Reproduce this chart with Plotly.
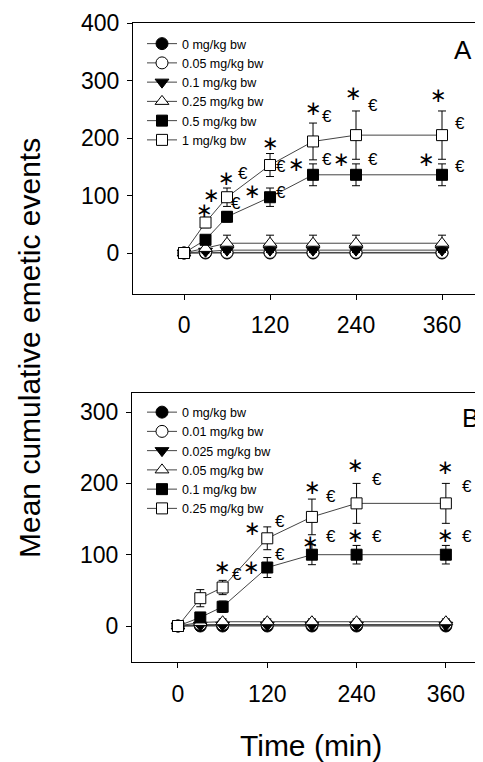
import plotly.graph_objects as go

# The page body adds an 8px margin, so the figure is 8px smaller each way
W, H = 475, 754
OFF = 8  # body margin offset (reference pixel -> figure pixel)

# ---------------- data ----------------
time_min = [0, 30, 60, 120, 180, 240, 360]

# Panel A
labels_A = ["0 mg/kg bw", "0.05 mg/kg bw", "0.1 mg/kg bw", "0.25 mg/kg bw", "0.5 mg/kg bw", "1 mg/kg bw"]
mean_A_0 = [0, 0, 0, 0, 0, 0, 0]
mean_A_005 = [0, 1, 1, 1, 1, 1, 1]
mean_A_01 = [0, 3, 5, 5, 5, 5, 5]
mean_A_025 = [0, 8, 17, 17, 17, 17, 17]
mean_A_05 = [0, 23, 63, 97, 136, 136, 136]
mean_A_1 = [0, 53, 97, 153, 194, 205, 205]
err_A_0 = [0, 0, 0, 0, 0, 0, 0]
err_A_005 = [0, 1, 1, 1, 1, 1, 1]
err_A_01 = [0, 3, 4, 4, 4, 4, 4]
err_A_025 = [0, 6, 14, 14, 14, 14, 14]
err_A_05 = [0, 5, 9, 16, 19, 19, 19]
err_A_1 = [0, 9, 16, 20, 32, 42, 42]

# Panel B
labels_B = ["0 mg/kg bw", "0.01 mg/kg bw", "0.025 mg/kg bw", "0.05 mg/kg bw", "0.1 mg/kg bw", "0.25 mg/kg bw"]
mean_B_0 = [0, 0, 0, 0, 0, 0, 0]
mean_B_001 = [0, 2, 2, 2, 2, 2, 2]
mean_B_0025 = [0, 1, 1, 1, 1, 1, 1]
mean_B_005 = [0, 5, 6, 6, 6, 6, 6]
mean_B_01 = [0, 12, 27, 82, 100, 100, 100]
mean_B_025 = [0, 39, 54, 123, 153, 172, 172]
err_B_0 = [0, 0, 0, 0, 0, 0, 0]
err_B_001 = [0, 1, 1, 1, 1, 1, 1]
err_B_0025 = [0, 1, 1, 1, 1, 1, 1]
err_B_005 = [0, 3, 4, 4, 4, 4, 4]
err_B_01 = [0, 6, 8, 14, 14, 13, 13]
err_B_025 = [0, 12, 10, 16, 25, 28, 28]

# significance marks (time, value, mark)
sig_A = [(29, 75, "*"), (39, 101, "*"), (59, 130, "*"), (82, 138, "€"), (73, 86, "€"),
         (96, 108, "*"), (121, 191, "*"), (136, 151, "€"), (135, 105, "€"), (157, 154, "*"),
         (180, 252, "*"), (199, 237, "€"), (199, 163, "€"), (220, 163, "*"), (236, 278, "*"),
         (264, 257, "€"), (264, 163, "€"), (355, 275, "*"), (385, 226, "€"), (338, 163, "*"),
         (385, 150, "€")]
sig_B = [(60, 83, "*"), (79, 72, "€"), (99, 83, "*"), (100, 138, "*"), (137, 146, "€"),
         (137, 100, "€"), (178, 118, "*"), (181, 195, "*"), (206, 182, "€"), (206, 125, "€"),
         (238, 226, "*"), (267, 206, "€"), (238, 128, "*"), (267, 125, "€"), (359, 223, "*"),
         (388, 196, "€"), (359, 128, "*"), (388, 125, "€")]

x_ticks = [0, 120, 240, 360]
y_ticks_A = [0, 100, 200, 300, 400]
y_ticks_B = [0, 100, 200, 300]

# ---------------- styles ----------------
symbols = ["circle", "circle", "triangle-down", "triangle-up", "square", "square"]
fills = ["black", "white", "black", "white", "black", "white"]
sizes = [12, 12, 12, 12, 11, 11]
FONT = "Liberation Sans, Arial, sans-serif"


def px_x(v):
    return (v - OFF) / W


def px_y(v):
    return 1 - (v - OFF) / H


fig = go.Figure()


def add_panel(means, errs, labels, xa, ya, legend):
    for i, (m, e, lab) in enumerate(zip(means, errs, labels)):
        fig.add_trace(go.Scatter(
            x=time_min, y=m, name=lab, mode="lines+markers",
            xaxis=xa, yaxis=ya, legend=legend,
            line=dict(color="#444444", width=1),
            marker=dict(symbol=symbols[i], size=sizes[i], color=fills[i],
                        line=dict(color="black", width=1)),
            error_y=dict(type="data", array=e, visible=True, color="black",
                         thickness=1, width=4),
        ))


add_panel([mean_A_0, mean_A_005, mean_A_01, mean_A_025, mean_A_05, mean_A_1],
          [err_A_0, err_A_005, err_A_01, err_A_025, err_A_05, err_A_1],
          labels_A, "x", "y", "legend")
add_panel([mean_B_0, mean_B_001, mean_B_0025, mean_B_005, mean_B_01, mean_B_025],
          [err_B_0, err_B_001, err_B_0025, err_B_005, err_B_01, err_B_025],
          labels_B, "x2", "y2", "legend2")

annotations = []
for (xr, yr, sig) in [("x", "y", sig_A), ("x2", "y2", sig_B)]:
    for t, v, mk in sig:
        if mk == "*":
            annotations.append(dict(x=t, y=v, xref=xr, yref=yr, text="∗", showarrow=False,
                                    font=dict(family="DejaVu Sans", size=20, color="black"),
                                    xanchor="center", yanchor="middle"))
        else:
            annotations.append(dict(x=t, y=v, xref=xr, yref=yr, text="€", showarrow=False,
                                    font=dict(family=FONT, size=17, color="black"),
                                    xanchor="center", yanchor="middle"))

annotations += [
    dict(x=px_x(463), y=px_y(50), xref="paper", yref="paper", text="A", showarrow=False,
         font=dict(family=FONT, size=26, color="black"), xanchor="center", yanchor="middle"),
    dict(x=px_x(470), y=px_y(418), xref="paper", yref="paper", text="B", showarrow=False,
         font=dict(family=FONT, size=26, color="black"), xanchor="center", yanchor="middle"),
    dict(x=px_x(30), y=px_y(348), xref="paper", yref="paper", text="Mean cumulative emetic events",
         showarrow=False, textangle=-90, font=dict(family=FONT, size=30, color="black"),
         xanchor="center", yanchor="middle"),
    dict(x=px_x(311), y=px_y(745), xref="paper", yref="paper", text="Time (min)",
         showarrow=False, font=dict(family=FONT, size=30, color="black"),
         xanchor="center", yanchor="middle"),
]

axis_common = dict(showline=True, linecolor="black", linewidth=1, ticks="outside", ticklen=5,
                   tickcolor="black", showgrid=False, zeroline=False, automargin=False,
                   tickfont=dict(family=FONT, size=23, color="black"))

fig.update_layout(
    template="none",
    width=W, height=H, margin=dict(l=0, r=0, t=0, b=0, autoexpand=False),
    paper_bgcolor="white", plot_bgcolor="white",
    showlegend=True,
    xaxis=dict(domain=[px_x(133), 1], range=[-71.2, 417.2], tickvals=x_ticks, mirror=True,
               anchor="y", ticklabelstandoff=5, **axis_common),
    yaxis=dict(domain=[px_y(294), px_y(23)], range=[-71.3, 400], tickvals=y_ticks_A,
               anchor="x", ticklabelstandoff=3, **axis_common),
    xaxis2=dict(domain=[px_x(132), 1], range=[-61.8, 409.9], tickvals=x_ticks, mirror=True,
                anchor="y2", ticklabelstandoff=6, **axis_common),
    yaxis2=dict(domain=[px_y(662), px_y(393)], range=[-50.5, 326.8], tickvals=y_ticks_B,
                anchor="x2", ticklabelstandoff=3, **axis_common),
    legend=dict(x=134 / W, y=1 - 21 / H, xanchor="left", yanchor="top", bgcolor="rgba(0,0,0,0)",
                font=dict(family=FONT, size=12.5, color="black"), itemwidth=30, borderwidth=0),
    legend2=dict(x=134 / W, y=1 - 389.5 / H, xanchor="left", yanchor="top", bgcolor="rgba(0,0,0,0)",
                 font=dict(family=FONT, size=12.5, color="black"), itemwidth=30, borderwidth=0),
    annotations=annotations,
)

fig.write_html("out.html")
